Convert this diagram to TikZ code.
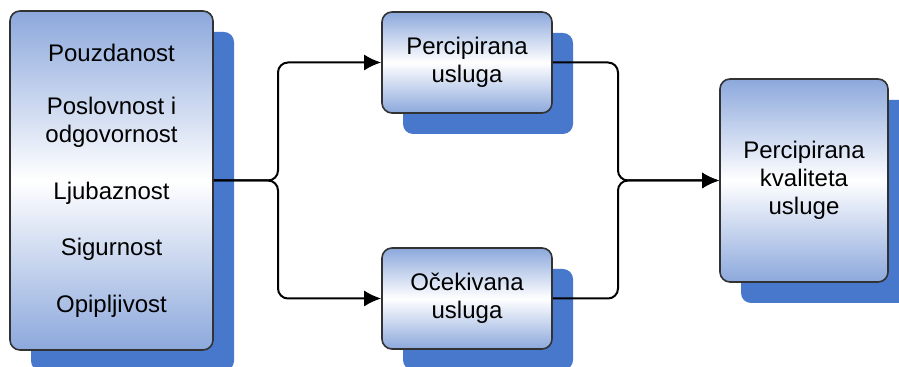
\documentclass[tikz,border=0pt]{standalone}
\usepackage{fontspec}
\setmainfont{Liberation Sans}
\usetikzlibrary{arrows.meta,shadows}
\definecolor{boxblue}{RGB}{140,168,220}
\definecolor{shadowblue}{RGB}{72,120,204}
\definecolor{boxline}{RGB}{50,50,50}

\begin{document}
\begin{tikzpicture}[x=0.5pt,y=-0.5pt]
        \tikzset{box/.style = {shape=rectangle,draw=boxline,line width=0.8pt,rounded corners=5pt,
                top color=boxblue,bottom color=boxblue,middle color=white,inner sep=0pt,align=center,
                font=\fontsize{12}{14}\selectfont,
                drop shadow={shadow xshift=10.5pt,shadow yshift=-10.5pt,fill=shadowblue,opacity=1}}}
        \tikzset{link/.style = {-{Latex[length=8.5pt,width=8pt]},line width=1pt,rounded corners=5pt}}
        \useasboundingbox (0,0) rectangle (899,367);
        % vertices
        \node[box,minimum width=101.5pt,minimum height=169.5pt] (dim) at (111.5,180.5)
                {Pouzdanost\\[12.5pt] Poslovnost i\\ odgovornost\\[14.5pt] Ljubaznost\\[14pt] Sigurnost\\[14.5pt] Opipljivost};
        \node[box,minimum width=85pt,minimum height=50.5pt] (perc) at (467,62.5) {Percipirana\\ usluga};
        \node[box,minimum width=85pt,minimum height=50.5pt] (ocek) at (467,298.5) {Očekivana\\ usluga};
        \node[box,minimum width=84pt,minimum height=101.5pt] (kval) at (804,180.5) {Percipirana\\ kvaliteta\\ usluge};
        \coordinate (jl) at (278,180.5);
        \coordinate (jr) at (618,180.5);
        %edges
        \draw[link] (dim.east) -- (jl) |- (perc.west);
        \draw[link] (dim.east) -- (jl) |- (ocek.west);
        \draw[link] (perc.east) -| (jr) -- (kval.west);
        \draw[link] (ocek.east) -| (jr) -- (kval.west);
\end{tikzpicture}
\end{document}
